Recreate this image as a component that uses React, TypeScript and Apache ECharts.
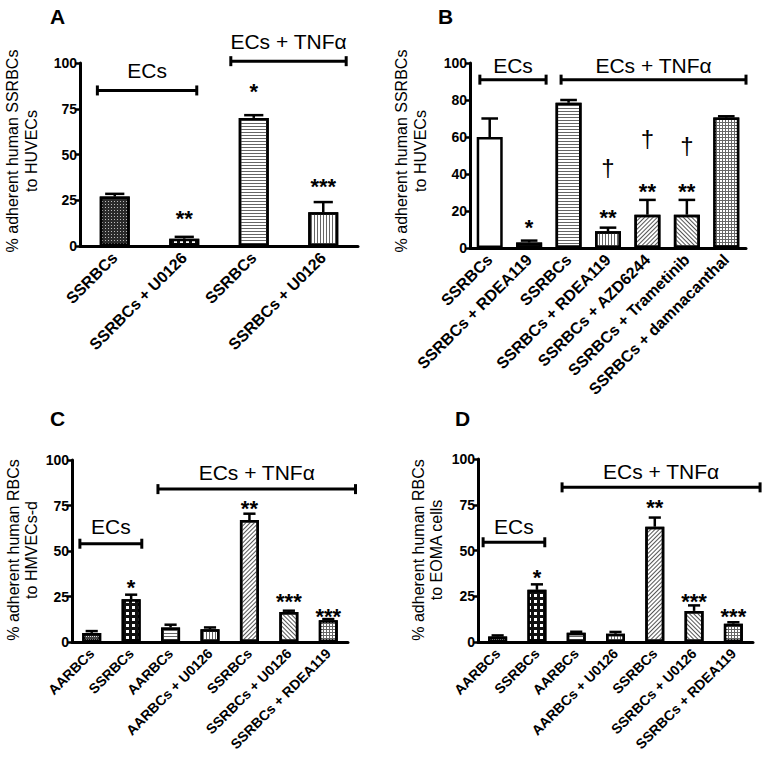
import React, { useEffect, useRef } from 'react';
import * as echarts from 'echarts';

// ---------- Data ----------
const catsA = ['SSRBCs', 'SSRBCs + U0126', 'SSRBCs', 'SSRBCs + U0126'];
const valsA = [27, 4, 70, 18.5];
const errA = [1.5, 1, 1.5, 5.5];
const sigA: [number, number, string][] = [[1, 18, '**'], [2, 87, '*'], [3, 35, '***']];
const bracketsA: [number, number, number, string][] = [[-0.25, 1.18, 85, 'ECs'], [1.67, 3.33, 101, 'ECs + TNFα']];

const catsB = ['SSRBCs', 'SSRBCs + RDEA119', 'SSRBCs', 'SSRBCs + RDEA119', 'SSRBCs + AZD6244', 'SSRBCs + Trametinib', 'SSRBCs + damnacanthal'];
const valsB = [60, 3, 78.5, 9, 18, 18, 70.5];
const errB = [10, 1, 1.5, 2, 8, 8, 0.7];
const sigB: [number, number, string][] = [[1, 14, '*'], [3, 19, '**'], [4, 33, '**'], [5, 33, '**']];
const daggersB: [number, number, string][] = [[3, 44, '†'], [4, 60, '†'], [5, 56, '†']];
const bracketsB: [number, number, number, string][] = [[-0.25, 1.43, 91, 'ECs'], [1.81, 6.5, 91, 'ECs + TNFα']];

const catsC = ['AARBCs', 'SSRBCs', 'AARBCs', 'AARBCs + U0126', 'SSRBCs', 'SSRBCs + U0126', 'SSRBCs + RDEA119'];
const valsC = [5, 23.5, 8, 7, 67, 16.5, 12];
const errC = [1, 2.5, 1.5, 1, 3.5, 0.7, 0.6];
const sigC: [number, number, string][] = [[1, 32.5, '*'], [4, 76, '**'], [5, 25, '***'], [6, 16.5, '***']];
const bracketsC: [number, number, number, string][] = [[-0.3, 1.27, 54, 'ECs'], [1.68, 6.69, 84, 'ECs + TNFα']];

const catsD = ['AARBCs', 'SSRBCs', 'AARBCs', 'AARBCs + U0126', 'SSRBCs', 'SSRBCs + U0126', 'SSRBCs + RDEA119'];
const valsD = [3, 28.5, 5, 4.5, 63, 17, 10];
const errD = [0.6, 3, 0.6, 1, 5, 3, 0.8];
const sigD: [number, number, string][] = [[1, 38, '*'], [4, 76.5, '**'], [5, 25, '***'], [6, 16.7, '***']];
const bracketsD: [number, number, number, string][] = [[-0.37, 1.2, 54.5, 'ECs'], [1.64, 6.68, 84.5, 'ECs + TNFα']];

const yTitleA = ['% adherent human SSRBCs', 'to HUVECs'];
const yTitleB = ['% adherent human SSRBCs', 'to HUVECs'];
const yTitleC = ['% adherent human RBCs', 'to HMVECs-d'];
const yTitleD = ['% adherent human RBCs', 'to EOMA cells'];

// ---------- Styles ----------
const FONT = "'Liberation Sans', Arial, Helvetica, sans-serif";

const fills: Record<string, { fill: string; decal?: any }> = {
  white: { fill: '#ffffff' },
  dark: { fill: '#1a1a1a', decal: { symbol: 'rect', symbolSize: 1, color: '#555555', dashArrayX: [1, 2], dashArrayY: [1, 2] } },
  fineDots: { fill: '#2a2a2a', decal: { symbol: 'rect', symbolSize: 1, color: '#bbbbbb', dashArrayX: [1, 1.5], dashArrayY: [1, 1.5] } },
  bigDots: { fill: '#111111', decal: { symbol: 'rect', symbolSize: 1, color: '#ffffff', dashArrayX: [2.5, 2.5], dashArrayY: [2.5, 2.5] } },
  hLines: { fill: '#ffffff', decal: { symbol: 'rect', symbolSize: 1, color: '#666666', dashArrayX: [1, 0], dashArrayY: [1, 2] } },
  vLines: { fill: '#ffffff', decal: { symbol: 'rect', symbolSize: 1, color: '#666666', dashArrayX: [1, 0], dashArrayY: [1, 2], rotation: Math.PI / 2 } },
  diag: { fill: '#ffffff', decal: { symbol: 'rect', symbolSize: 1, color: '#555555', dashArrayX: [1, 0], dashArrayY: [1, 1.6], rotation: -Math.PI / 4 } },
  rdiag: { fill: '#ffffff', decal: { symbol: 'rect', symbolSize: 1, color: '#555555', dashArrayX: [1, 0], dashArrayY: [1, 1.6], rotation: Math.PI / 4 } },
  grid: { fill: '#666666', decal: { symbol: 'rect', symbolSize: 1, color: '#ffffff', dashArrayX: [2, 1], dashArrayY: [2, 1] } },
  zig: { fill: '#444444', decal: { symbol: 'rect', symbolSize: 1, color: '#dddddd', dashArrayX: [1, 1], dashArrayY: [1, 2] } },
};

const panels = [
  {
    letter: 'A', letterPos: [50, 6],
    cats: catsA, vals: valsA, err: errA, sig: sigA, daggers: [] as [number, number, string][], brackets: bracketsA,
    grid: { left: 80, top: 63, width: 278, height: 183 }, interval: 25, barWidth: 30, labelSize: 16,
    patterns: ['fineDots', 'bigDots', 'hLines', 'vLines'],
    yTitle: yTitleA, titleX: [12, 31], titleY: 151, textOffset: 20,
  },
  {
    letter: 'B', letterPos: [438, 6],
    cats: catsB, vals: valsB, err: errB, sig: sigB, daggers: daggersB, brackets: bracketsB,
    grid: { left: 470, top: 63, width: 276, height: 185 }, interval: 20, barWidth: 26, labelSize: 16,
    patterns: ['white', 'dark', 'hLines', 'vLines', 'diag', 'rdiag', 'grid'],
    yTitle: yTitleB, titleX: [401, 420], titleY: 151, textOffset: 14,
  },
  {
    letter: 'C', letterPos: [50, 408],
    cats: catsC, vals: valsC, err: errC, sig: sigC, daggers: [] as [number, number, string][], brackets: bracketsC,
    grid: { left: 72, top: 460, width: 276, height: 182 }, interval: 25, barWidth: 19, labelSize: 14,
    patterns: ['zig', 'bigDots', 'hLines', 'vLines', 'diag', 'rdiag', 'grid'],
    yTitle: yTitleC, titleX: [13, 31], titleY: 550, textOffset: 17,
  },
  {
    letter: 'D', letterPos: [455, 408],
    cats: catsD, vals: valsD, err: errD, sig: sigD, daggers: [] as [number, number, string][], brackets: bracketsD,
    grid: { left: 478, top: 459, width: 275, height: 183 }, interval: 25, barWidth: 19, labelSize: 14,
    patterns: ['zig', 'bigDots', 'hLines', 'vLines', 'diag', 'rdiag', 'grid'],
    yTitle: yTitleD, titleX: [418, 436], titleY: 550, textOffset: 16,
  },
];

function buildOption() {
  const grids: any[] = [];
  const xAxes: any[] = [];
  const yAxes: any[] = [];
  const series: any[] = [];
  const graphics: any[] = [];
  const n = panels.length;

  panels.forEach((p, k) => {
    grids.push({ ...p.grid, containLabel: false });
    xAxes[k] = {
      type: 'category', gridIndex: k, data: p.cats,
      axisLine: { onZero: false, lineStyle: { color: '#000', width: 3 } },
      axisTick: { alignWithLabel: true, length: 6, lineStyle: { color: '#000', width: 2.5 } },
      axisLabel: { rotate: 45, interval: 0, color: '#000', fontWeight: 'bold', fontSize: p.labelSize, fontFamily: FONT, margin: 9 },
      splitLine: { show: false },
    };
    xAxes[n + k] = {
      type: 'value', gridIndex: k, min: -0.5, max: p.cats.length - 0.5, show: false,
      axisLine: { onZero: false },
      splitLine: { show: false },
    };
    yAxes.push({
      type: 'value', gridIndex: k, min: 0, max: 100, interval: p.interval,
      axisLine: { show: true, onZero: false, lineStyle: { color: '#000', width: 3 } },
      axisTick: { show: true, length: 5, lineStyle: { color: '#000', width: 2.5 } },
      axisLabel: { color: '#000', fontWeight: 'bold', fontSize: 14, fontFamily: FONT, margin: 3 },
      splitLine: { show: false },
    });

    // bars
    series.push({
      type: 'bar', xAxisIndex: k, yAxisIndex: k, barWidth: p.barWidth,
      data: p.vals.map((v, i) => {
        const f = fills[p.patterns[i]];
        return { value: v, itemStyle: { color: f.fill, decal: f.decal, borderColor: '#000', borderWidth: 2.5 } };
      }),
      z: 3,
    });

    // error bars (upper only)
    const bw = p.barWidth;
    series.push({
      type: 'custom', xAxisIndex: k, yAxisIndex: k, clip: false, z: 2,
      data: p.vals.map((v, i) => [i, v, p.err[i]]),
      renderItem: (params: any, api: any) => {
        const i = api.value(0), v = api.value(1), e = api.value(2);
        const base = api.coord([i, v]);
        const top = api.coord([i, v + e]);
        const cap = bw * 0.32;
        return {
          type: 'group',
          children: [
            { type: 'line', shape: { x1: base[0], y1: base[1], x2: top[0], y2: top[1] }, style: { stroke: '#000', lineWidth: 2.5 } },
            { type: 'line', shape: { x1: top[0] - cap, y1: top[1], x2: top[0] + cap, y2: top[1] }, style: { stroke: '#000', lineWidth: 2.5 } },
          ],
        };
      },
    });

    // brackets
    const off = p.textOffset;
    series.push({
      type: 'custom', xAxisIndex: n + k, yAxisIndex: k, clip: false, z: 5,
      encode: { x: [0, 1], y: 2 },
      data: p.brackets.map((b) => [b[0], b[1], b[2]]),
      renderItem: (params: any, api: any) => {
        const b = p.brackets[params.dataIndex];
        const a = api.coord([b[0], b[2]]);
        const c = api.coord([b[1], b[2]]);
        const h = 5;
        return {
          type: 'group',
          children: [
            { type: 'line', shape: { x1: a[0], y1: a[1], x2: c[0], y2: c[1] }, style: { stroke: '#000', lineWidth: 3 } },
            { type: 'line', shape: { x1: a[0], y1: a[1] - h, x2: a[0], y2: a[1] + h }, style: { stroke: '#000', lineWidth: 3 } },
            { type: 'line', shape: { x1: c[0], y1: c[1] - h, x2: c[0], y2: c[1] + h }, style: { stroke: '#000', lineWidth: 3 } },
            {
              type: 'text', x: (a[0] + c[0]) / 2, y: a[1] - off,
              style: { text: b[3], fill: '#000', fontSize: 21, fontFamily: FONT, align: 'center', verticalAlign: 'middle' },
            },
          ],
        };
      },
    });

    // significance marks
    const marks = [
      ...p.sig.map((s) => ({ s, size: 22, weight: 'bold', shift: 5 })),
      ...p.daggers.map((s) => ({ s, size: 24, weight: 'normal', shift: 1 })),
    ];
    series.push({
      type: 'custom', xAxisIndex: n + k, yAxisIndex: k, clip: false, z: 5,
      data: marks.map((m) => [m.s[0], m.s[1]]),
      renderItem: (params: any, api: any) => {
        const m = marks[params.dataIndex];
        const pt = api.coord([m.s[0], m.s[1]]);
        return {
          type: 'text', x: pt[0], y: pt[1] + m.shift,
          style: { text: m.s[2], fill: '#000', fontSize: m.size, fontWeight: m.weight, fontFamily: FONT, align: 'center', verticalAlign: 'middle' },
        };
      },
    });

    graphics.push({
      type: 'text', left: p.letterPos[0], top: p.letterPos[1],
      style: { text: p.letter, fill: '#000', fontSize: 21, fontWeight: 'bold', fontFamily: FONT },
    });
    p.yTitle.forEach((line, li) => {
      graphics.push({
        type: 'text', x: p.titleX[li], y: p.titleY, rotation: Math.PI / 2,
        style: { text: line, fill: '#000', fontSize: 16, fontFamily: FONT, align: 'center', verticalAlign: 'middle' },
      });
    });
  });

  return {
    animation: false,
    backgroundColor: '#ffffff',
    textStyle: { fontFamily: FONT },
    grid: grids,
    xAxis: xAxes,
    yAxis: yAxes,
    series,
    graphic: graphics,
  };
}

export default function App() {
  const ref = useRef<HTMLDivElement>(null);
  useEffect(() => {
    if (!ref.current) return;
    const chart = echarts.init(ref.current, undefined, { renderer: 'svg' });
    chart.setOption(buildOption() as any);
    return () => chart.dispose();
  }, []);
  return (
    <div
      ref={ref}
      style={{ position: 'fixed', left: 0, top: 0, width: 766, height: 758, background: '#fff' }}
    />
  );
}
